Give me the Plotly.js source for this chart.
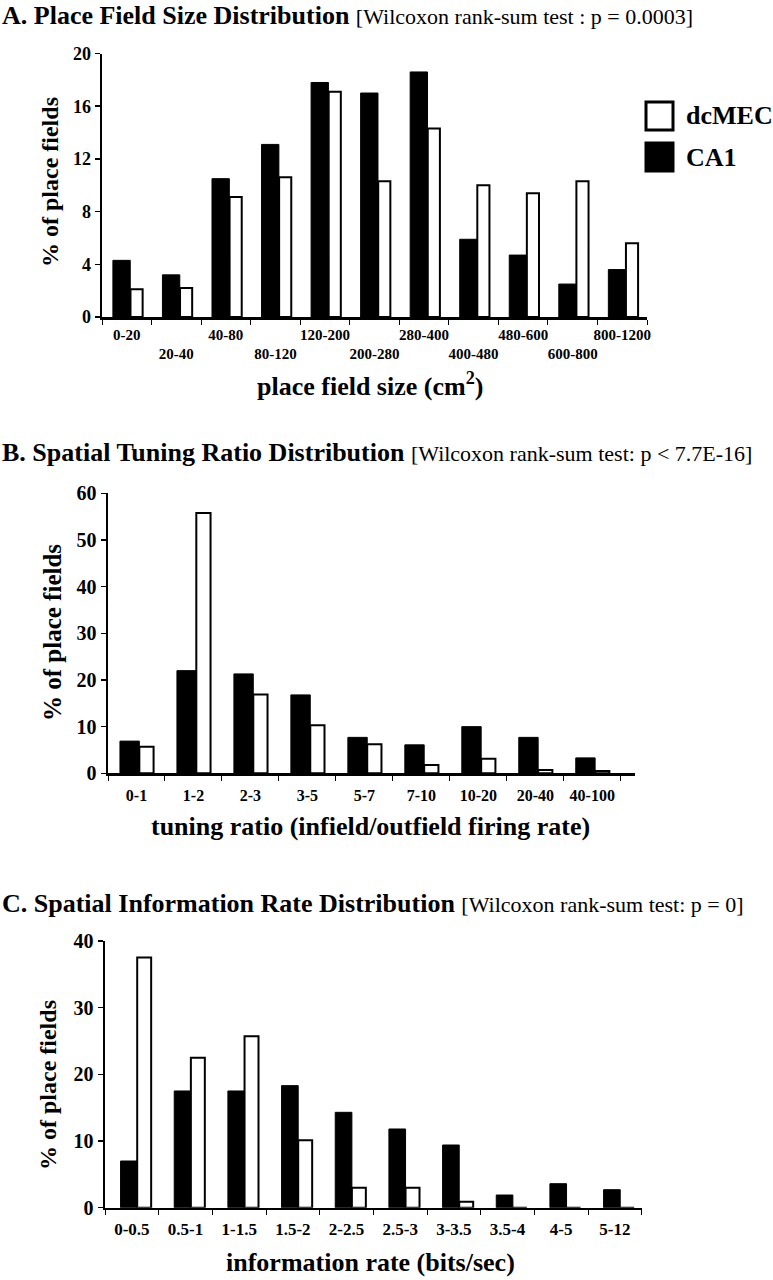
<!DOCTYPE html>
<html>
<head>
<meta charset="utf-8">
<script src="https://cdn.plot.ly/plotly-3.0.1.min.js"></script>
<style>html,body{margin:0;padding:0;background:#fff;}#chart{width:773px;height:1280px;}</style>
</head>
<body>
<div id="chart"></div>
<script>
// ---- Data ----
const catsA = ['0-20','20-40','40-80','80-120','120-200','200-280','280-400','400-480','480-600','600-800','800-1200'];
const ca1A  = [4.3, 3.2, 10.5, 13.1, 17.8, 17.0, 18.6, 5.9, 4.7, 2.5, 3.6];
const mecA  = [2.1, 2.2, 9.1, 10.6, 17.1, 10.3, 14.3, 10.0, 9.4, 10.3, 5.6];

const catsB = ['0-1','1-2','2-3','3-5','5-7','7-10','10-20','20-40','40-100'];
const ca1B  = [6.9, 22.0, 21.3, 16.8, 7.7, 6.1, 10.0, 7.7, 3.3];
const mecB  = [5.7, 55.8, 16.9, 10.3, 6.2, 1.8, 3.1, 0.7, 0.5];

const catsC = ['0-0.5','0.5-1','1-1.5','1.5-2','2-2.5','2.5-3','3-3.5','3.5-4','4-5','5-12'];
const ca1C  = [7.0, 17.5, 17.5, 18.3, 14.3, 11.8, 9.4, 1.9, 3.6, 2.7];
const mecC  = [37.5, 22.5, 25.7, 10.1, 3.0, 3.0, 0.9, 0, 0, 0];

const seriesNames = ['dcMEC', 'CA1'];
const panelTitles = [
  ['A. Place Field Size Distribution', '[Wilcoxon rank-sum test : p = 0.0003]'],
  ['B. Spatial Tuning Ratio Distribution', '[Wilcoxon rank-sum test: p < 7.7E-16]'],
  ['C. Spatial Information Rate Distribution', '[Wilcoxon rank-sum test: p = 0]']
];
const xTitles = ['place field size (cm<sup>2</sup>)', 'tuning ratio (infield/outfield firing rate)', 'information rate (bits/sec)'];
const yTitle = '% of place fields';

// ---- Helpers ----
const W = 773, H = 1280;
const FF = 'Liberation Serif, Times New Roman, serif';
const px = v => v / W;
const py = v => 1 - v / H;

function blackBar(x, y, xa, ya, off, wid) {
  return {type:'bar', x:x, y:y, xaxis:xa, yaxis:ya, name:'CA1', showlegend:false,
    marker:{color:'#000', line:{color:'#000', width:1}}, offset:off, width:wid, hoverinfo:'x+y'};
}
function whiteBar(x, y, xa, ya, off, wid) {
  return {type:'bar', x:x, y:y, xaxis:xa, yaxis:ya, name:'dcMEC', showlegend:false,
    marker:{color:'#fff', line:{color:'#000', width:2}}, offset:off, width:wid, hoverinfo:'x+y'};
}

const data = [
  blackBar(catsA, ca1A, 'x', 'y', -0.28, 0.35),
  whiteBar(catsA, mecA, 'x', 'y', 0.075, 0.245),
  blackBar(catsB, ca1B, 'x2', 'y2', -0.29, 0.34),
  whiteBar(catsB, mecB, 'x2', 'y2', 0.05, 0.25),
  blackBar(catsC, ca1C, 'x3', 'y3', -0.21, 0.31),
  whiteBar(catsC, mecC, 'x3', 'y3', 0.10, 0.26)
];

function xAx(domain, range, anchor, fsize, standoff, tickvals, ticktext) {
  const a = {domain:domain, range:range, anchor:anchor, type:'category',
    showline:true, linecolor:'#000', linewidth:2.5, ticks:'outside', tickson:'boundaries',
    ticklen:5, tickwidth:1, tickcolor:'#000', showgrid:false, zeroline:false, tickangle:0,
    tickfont:{family:FF, size:fsize, color:'#000', weight:'bold'}, ticklabelstandoff:standoff,
    fixedrange:true};
  if (tickvals) { a.tickmode = 'array'; a.tickvals = tickvals; a.ticktext = ticktext; }
  return a;
}
function yAx(domain, range, dtick, anchor, fsize) {
  return {domain:domain, range:range, dtick:dtick, tick0:0, anchor:anchor,
    showline:true, linecolor:'#000', linewidth:2.5, ticks:'outside', ticklen:5, tickwidth:1.5,
    tickcolor:'#000', showgrid:false, zeroline:false,
    tickfont:{family:FF, size:fsize, color:'#000', weight:'bold'}, fixedrange:true};
}

const tickTextA = catsA.map((c, i) => i % 2 ? '\u00A0<br>' + c : c);

const annotations = [];
const titleYs = [16, 452, 903];
panelTitles.forEach((t, i) => {
  annotations.push({xref:'paper', yref:'paper', x:0, y:py(titleYs[i]), xanchor:'left', yanchor:'middle',
    showarrow:false, align:'left',
    text:'<b>' + t[0] + '</b> <span style="font-size:22px">' + t[1] + '</span>',
    font:{family:FF, size:26, color:'#000'}});
});
const xTitlePos = [[370, 384], [370, 826], [370, 1262]];
xTitles.forEach((t, i) => {
  annotations.push({xref:'paper', yref:'paper', x:px(xTitlePos[i][0]), y:py(xTitlePos[i][1]),
    xanchor:'center', yanchor:'middle', showarrow:false, text:t,
    font:{family:FF, size:26, color:'#000', weight:'bold'}});
});
const yTitlePos = [[50, 182, 24], [52, 632, 25], [48, 1085, 24]];
yTitlePos.forEach(p => {
  annotations.push({xref:'paper', yref:'paper', x:px(p[0]), y:py(p[1]), xanchor:'center', yanchor:'middle',
    textangle:-90, showarrow:false, text:yTitle,
    font:{family:FF, size:p[2], color:'#000', weight:'bold'}});
});
// legend labels
annotations.push({xref:'paper', yref:'paper', x:px(684), y:py(116), xanchor:'left', yanchor:'middle',
  showarrow:false, text:seriesNames[0], font:{family:FF, size:26, color:'#000', weight:'bold'}});
annotations.push({xref:'paper', yref:'paper', x:px(684), y:py(157), xanchor:'left', yanchor:'middle',
  showarrow:false, text:seriesNames[1], font:{family:FF, size:26, color:'#000', weight:'bold'}});

const shapes = [
  {type:'rect', xref:'paper', yref:'paper', x0:px(646), x1:px(673), y0:py(130), y1:py(102),
   fillcolor:'#fff', line:{color:'#000', width:3}},
  {type:'rect', xref:'paper', yref:'paper', x0:px(646), x1:px(673), y0:py(171), y1:py(143),
   fillcolor:'#000', line:{color:'#000', width:3}}
];

const layout = {
  width:W, height:H, margin:{l:0, r:0, t:0, b:0},
  paper_bgcolor:'#fff', plot_bgcolor:'#fff', barmode:'overlay', showlegend:false,
  xaxis: xAx([px(102), px(647)], [-0.5, 10.5], 'y', 15, 2, catsA, tickTextA),
  yaxis: yAx([py(317), py(53.5)], [0, 20], 4, 'x', 18),
  xaxis2: xAx([px(108), px(635)], [-0.5, 8.75], 'y2', 16, 6),
  yaxis2: yAx([py(773.3), py(493.3)], [0, 60], 10, 'x2', 20),
  xaxis3: xAx([px(105), px(641.7)], [-0.5, 9.5], 'y3', 17, 4),
  yaxis3: yAx([py(1207.7), py(940.9)], [0, 40], 10, 'x3', 20),
  annotations: annotations,
  shapes: shapes,
  font:{family:FF, color:'#000'}
};

Plotly.newPlot('chart', data, layout, {displayModeBar:false, staticPlot:true});
</script>
</body>
</html>
